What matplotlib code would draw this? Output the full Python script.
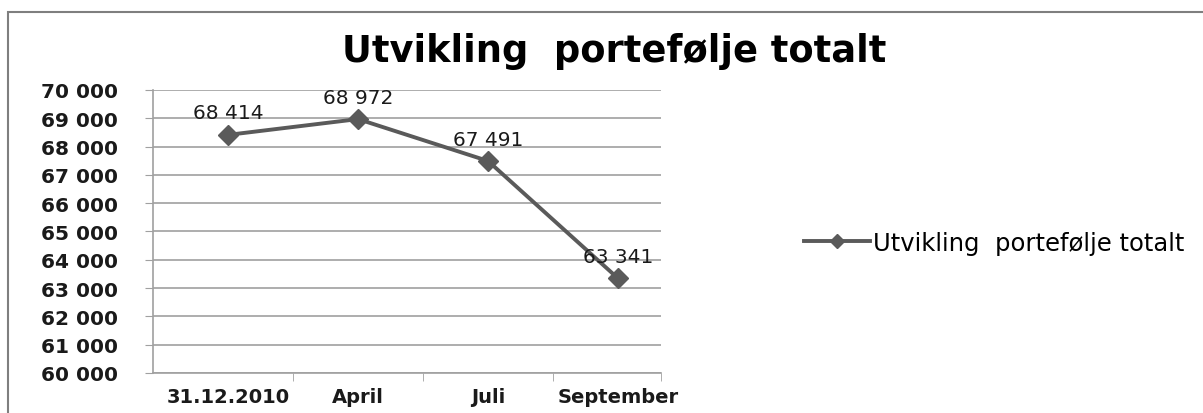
import matplotlib
matplotlib.use("Agg")
import matplotlib.pyplot as plt
from matplotlib.patches import Rectangle
from matplotlib.lines import Line2D

categories = ["31.12.2010", "April", "Juli", "September"]
values = [68414, 68972, 67491, 63341]
yticks = [60000, 61000, 62000, 63000, 64000, 65000, 66000, 67000, 68000, 69000, 70000]
title = "Utvikling  portefølje totalt"
series_name = "Utvikling  portefølje totalt"

def fmt(v):
    return f"{v:,}".replace(",", " ")

plt.rcParams['font.family'] = ['DejaVu Sans']

fig = plt.figure(figsize=(12.03, 4.14), dpi=100)
fig.patches.append(Rectangle((8/1203, -0.1), 1.2, (414-13)/414 + 0.1,
                             transform=fig.transFigure, fill=False,
                             edgecolor='#7f7f7f', linewidth=1.5))

ax = fig.add_axes([153/1203, 1-374/414, (661-153)/1203, (374-91)/414])
x = list(range(len(categories)))
line_color = '#5a5a5a'
ax.plot(x, values, color=line_color, linewidth=2.8, marker='D', markersize=10,
        markerfacecolor=line_color, markeredgecolor=line_color, zorder=3)
for xi, v in zip(x, values):
    ax.annotate(fmt(v), (xi, v), xytext=(0, 9), textcoords='offset points',
                ha='center', va='bottom', fontsize=14.5, color='#1a1a1a')

ax.set_ylim(60000, 70000)
ax.set_yticks(yticks)
ax.set_yticklabels([fmt(t) for t in yticks], fontsize=14.5, fontweight='bold', color='#1a1a1a')
ax.yaxis.grid(True, color='#a0a0a0', linewidth=1.2)
ax.set_axisbelow(True)
ax.set_xlim(-0.577, 3.33)
ax.set_xticks(x)
ax.set_xticklabels(categories, fontsize=14, fontweight='bold', color='#1a1a1a')
ax.tick_params(axis='x', which='major', length=0, pad=10)
ax.set_xticks([0.5, 1.5, 2.5, 3.33], minor=True)
ax.tick_params(axis='x', which='minor', length=6, color='#a0a0a0')
ax.tick_params(axis='y', length=6, color='#a0a0a0', pad=19)
for s in ['top', 'right']:
    ax.spines[s].set_visible(False)
ax.spines['left'].set_color('#a0a0a0')
ax.spines['bottom'].set_color('#a0a0a0')
ax.spines['left'].set_linewidth(1.2)
ax.spines['bottom'].set_linewidth(1.2)

fig.text(614/1203, 1-52/414, title, ha='center', va='center', fontsize=26.5,
         fontweight='bold', color='#000000')

handle = Line2D([], [], color=line_color, linewidth=2.8, marker='D', markersize=7,
                markerfacecolor=line_color)
fig.legend([handle], [series_name], loc='center left',
           bbox_to_anchor=(782/1203, 1-244/414), frameon=False,
           handlelength=2.7, handletextpad=0.15,
           prop={'size': 17.5, 'weight': 'normal'})

fig.savefig("out.png", dpi=100)
